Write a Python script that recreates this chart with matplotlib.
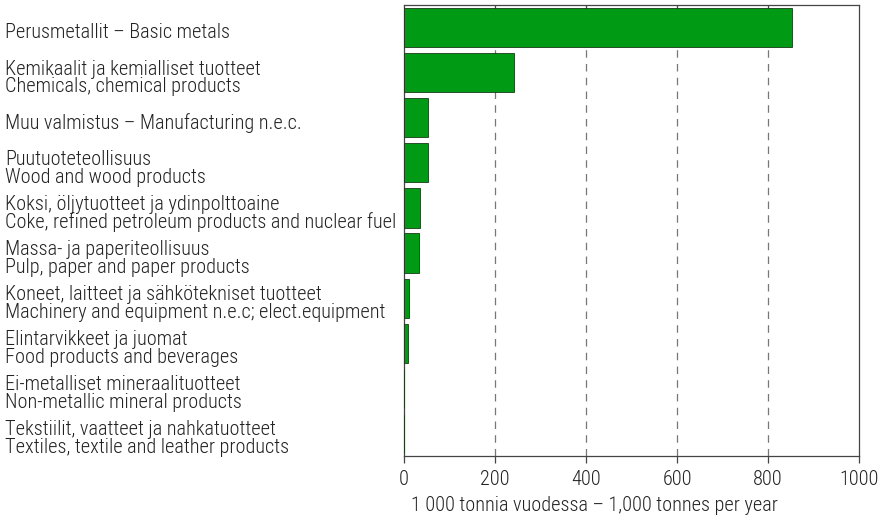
import matplotlib
matplotlib.use("Agg")
import matplotlib.pyplot as plt
import matplotlib.transforms as mtransforms
from matplotlib import font_manager

categories = [
    "Perusmetallit – Basic metals",
    "Kemikaalit ja kemialliset tuotteet\nChemicals, chemical products",
    "Muu valmistus – Manufacturing n.e.c.",
    "Puutuoteteollisuus\nWood and wood products",
    "Koksi, öljytuotteet ja ydinpolttoaine\nCoke, refined petroleum products and nuclear fuel",
    "Massa- ja paperiteollisuus\nPulp, paper and paper products",
    "Koneet, laitteet ja sähkötekniset tuotteet\nMachinery and equipment n.e.c; elect.equipment",
    "Elintarvikkeet ja juomat\nFood products and beverages",
    "Ei-metalliset mineraalituotteet\nNon-metallic mineral products",
    "Tekstiilit, vaatteet ja nahkatuotteet\nTextiles, textile and leather products",
]
values = [852, 242, 53, 53, 35, 34, 12, 9, 0, 0]
xticks = [0, 200, 400, 600, 800, 1000]
xlabel = "1 000 tonnia vuodessa – 1,000 tonnes per year"

names = {f.name for f in font_manager.fontManager.ttflist}
family = ["DejaVu Sans"]
for cand in ["Roboto Condensed", "Archivo Narrow", "Asap Condensed", "Barlow Semi Condensed"]:
    if cand in names:
        family = [cand]
        break
plt.rcParams["font.family"] = family + ["DejaVu Sans"]
plt.rcParams["font.weight"] = "light"
plt.rcParams["axes.labelweight"] = "light"

FS = 14.6
W, H = 883, 521
fig = plt.figure(figsize=(W / 100, H / 100), dpi=100)
ax = fig.add_axes([404 / W, 1 - 456 / H, (859 - 404) / W, (456 - 5) / H])

n = len(categories)
ypos = list(range(n))
ax.barh(ypos, values, height=0.87, color="#009a14", edgecolor="#1a3a1a", linewidth=0.6, zorder=3)
ax.set_ylim(n - 0.5, -0.5)
ax.set_xlim(0, 1000)
ax.set_xticks(xticks)
ax.set_xticklabels([str(t) for t in xticks], fontsize=FS, fontweight="light")
ax.set_yticks([])
for t in xticks[1:-1]:
    ax.axvline(t, color="#777777", linestyle=(0, (6, 5)), linewidth=0.9, zorder=1)
ax.tick_params(axis="x", bottom=True, top=False, direction="out", length=5, width=0.9,
               color="#444444", pad=5, labelcolor="#222222")
sec = ax.secondary_xaxis("top")
sec.set_xticks(xticks[1:-1])
sec.tick_params(direction="in", length=4, width=0.9, color="#444444", labeltop=False)
sec.spines["top"].set_visible(False)
for s in ax.spines.values():
    s.set_color("#444444")
    s.set_linewidth(0.9)
ax.set_xlabel(xlabel, fontsize=FS, fontweight="light", color="#222222")
ax.xaxis.set_label_coords((594 - 404) / 455, -0.088)

trans = mtransforms.blended_transform_factory(fig.transFigure, ax.transData)
for y, lab in zip(ypos, categories):
    ax.text(5 / W, y + 0.12, lab, transform=trans, ha="left", va="center",
            fontsize=FS, fontweight="light", color="#222222", linespacing=0.92, clip_on=False)

fig.savefig("out.png", dpi=100)
